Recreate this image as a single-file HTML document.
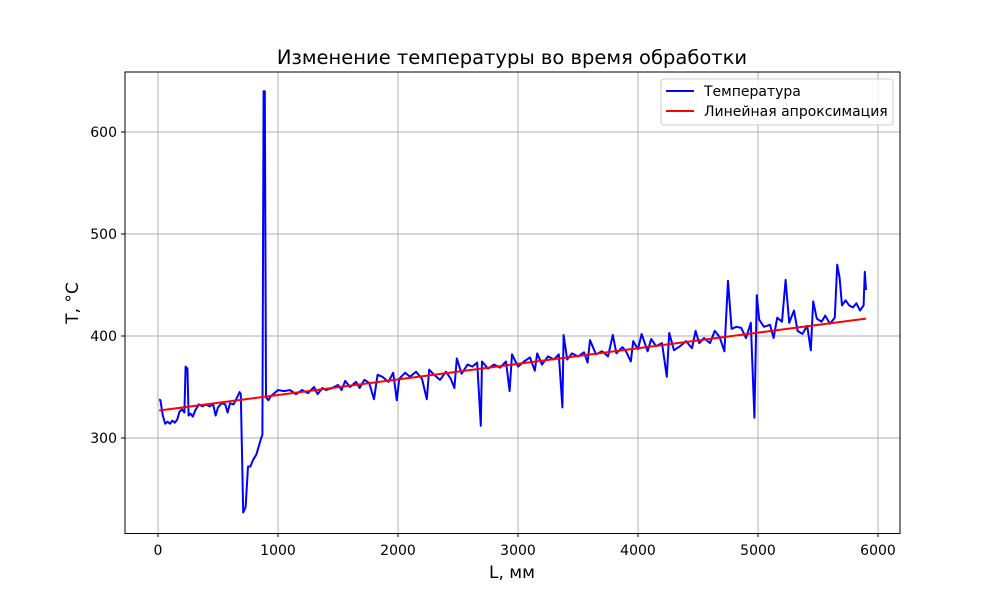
<!DOCTYPE html>
<html><head><meta charset="utf-8"><style>
body{margin:0;background:#fff}
svg text{font-family:"DejaVu Sans","Liberation Sans",sans-serif;fill:#000}
</style></head><body>
<svg id="chart" width="1000" height="600" xmlns="http://www.w3.org/2000/svg">
<rect width="1000" height="600" fill="#fff"/>
<g id="grid"></g>
<g id="series"></g>
<rect x="125" y="72" width="775" height="461.5" fill="none" stroke="#000" stroke-width="1"/>
<g id="ticks"></g>
<text x="512" y="64" font-size="19.5" text-anchor="middle">Изменение температуры во время обработки</text>
<text x="512" y="578" font-size="17" text-anchor="middle">L, мм</text>
<text x="78" y="303" font-size="17" text-anchor="middle" transform="rotate(-90 78 303)">T, °C</text>
<g>
<rect x="661" y="79" width="232" height="46" rx="3" fill="#fff" fill-opacity="0.8" stroke="#ccc"/>
<line x1="666" y1="91" x2="694" y2="91" stroke="#0000ff" stroke-width="2"/>
<text x="704" y="96" font-size="14">Температура</text>
<line x1="666" y1="111" x2="694" y2="111" stroke="#ff0000" stroke-width="2"/>
<text x="704" y="116" font-size="14">Линейная апроксимация</text>
</g>
</svg>
<script>
const xTicks=[0,1000,2000,3000,4000,5000,6000];
const yTicks=[300,400,500,600];
const lengthMm=[10,20,40,60,80,100,120,140,160,180,200,220,230,245,255,270,290,310,340,370,400,430,460,480,500,530,560,580,600,630,660,680,690,710,730,750,770,790,820,840,860,870,880,890,900,920,940,960,980,1000,
1050,1100,1150,1200,1250,1300,1330,1370,1400,1450,1500,1530,1560,1600,1650,1680,1720,1760,1800,1830,1870,1920,1960,1990,2010,2060,2100,2150,2200,2240,2260,2300,2350,2400,2440,2470,2490,2530,2580,2620,2660,2690,2700,2750,2800,2850,2900,2930,2950,3000,3050,3100,3140,3160,3200,3250,3300,3340,3370,3380,3410,3450,3500,3550,3580,3600,3650,3700,3750,3790,3820,3870,3900,3940,3960,4000,4030,4080,4110,4150,4200,4240,4260,4300,4350,4400,4450,4480,4510,4550,4600,4640,4680,4720,4750,4780,4820,4860,4900,4940,4970,4990,5010,5050,5100,5130,5160,5200,5230,5260,5300,5330,5370,5410,5440,5460,5490,5530,5560,5600,5640,5660,5680,5700,5730,5760,5790,5820,5850,5880,5890,5900];
const temperature=[338,337,322,314,316,314,317,315,318,326,328,325,370,368,322,324,321,327,333,331,333,331,333,322,330,334,333,325,334,333,340,345,343,227,232,272,272,278,284,292,300,303,640,640,340,337,341,343,345,347,
346,347,343,347,344,350,343,349,347,349,352,347,356,350,355,349,357,354,338,362,360,355,364,337,358,364,360,365,358,338,367,362,357,365,358,349,378,363,372,370,374,312,375,368,372,369,375,346,382,370,375,379,366,383,372,380,377,382,330,401,377,383,380,384,374,396,382,385,380,401,383,389,385,375,395,387,402,385,397,390,393,360,403,386,390,395,388,405,393,398,393,405,399,385,454,407,409,408,398,413,320,440,416,409,411,398,418,414,455,413,425,405,402,410,386,434,417,414,420,412,418,470,457,430,435,430,428,432,425,430,463,445];
const fitX=[10,5900];
const fitY=[327,417];
const X=v=>158+v*0.12, Y=v=>438-(v-300)*1.02;
const ns="http://www.w3.org/2000/svg";
const grid=document.getElementById('grid'),ticks=document.getElementById('ticks'),series=document.getElementById('series');
function mk(t,a,p){const e=document.createElementNS(ns,t);for(const k in a)e.setAttribute(k,a[k]);p.appendChild(e);return e;}
xTicks.forEach(v=>{
 const g=mk('line',{x1:X(v),x2:X(v),y1:72,y2:533,stroke:'#b0b0b0','stroke-width':1},grid);
 
 
 mk('line',{x1:X(v),x2:X(v),y1:533.5,y2:537,stroke:'#000'},ticks);
 const t=mk('text',{x:X(v),y:555,'font-size':14,'text-anchor':'middle'},ticks);t.textContent=v;
 
 
});
yTicks.forEach(v=>{
 const g=mk('line',{x1:125,x2:900,y1:Y(v),y2:Y(v),stroke:'#b0b0b0','stroke-width':1},grid);
 
 
 mk('line',{x1:121,x2:125,y1:Y(v),y2:Y(v),stroke:'#000'},ticks);
 const t=mk('text',{x:117,y:Y(v)+5,'font-size':14,'text-anchor':'end'},ticks);t.textContent=v;
 
 
});
const tl=mk('polyline',{points:lengthMm.map((x,i)=>X(x)+','+Y(temperature[i])).join(' '),fill:'none',stroke:'#0000ff','stroke-width':2,'stroke-linejoin':'round'},series);


const fl=mk('polyline',{points:fitX.map((x,i)=>X(x)+','+Y(fitY[i])).join(' '),fill:'none',stroke:'#ff0000','stroke-width':2},series);


</script>
</body></html>
